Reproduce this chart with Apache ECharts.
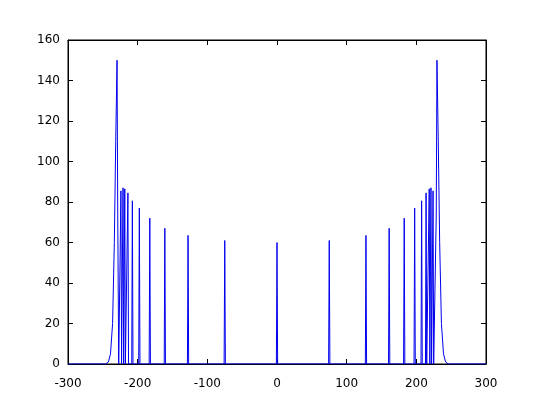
<!DOCTYPE html>
<html>
<head>
<script src="https://cdn.jsdelivr.net/npm/echarts@6/dist/echarts.min.js"></script>
<style>html,body{margin:0;background:#fff}#main{width:540px;height:405px}</style>
</head>
<body>
<div id="main"></div>
<script>
// narrow peaks on the left half (mirrored on the right), plus the centre one
var peakX = [-224, -221, -218.5, -214, -207.6, -197.6, -182.6, -161, -127.7, -75];
var peakY = [85.5, 87, 86.5, 84.5, 80.6, 77, 72, 67, 63.5, 61];
var centreY = 60;
// outer flank of the big edge peak (left side)
var edgeX = [-300, -246, -242, -239, -236, -233.5, -231.5, -229.6, -228.6, -227.2];
var edgeY = [0, 0, 1, 5, 20, 60, 110, 150, 74, 0];

var pts = [];
for (var i = 0; i < edgeX.length; i++) pts.push([edgeX[i], edgeY[i]]);
var left = [];
for (var i = 0; i < peakX.length; i++) {
    left.push([peakX[i] - 0.9, 0], [peakX[i], peakY[i]], [peakX[i] + 0.9, 0]);
}
pts = pts.concat(left);
pts.push([-0.9, 0], [0, centreY], [0.9, 0]);
var right = [];
for (var i = left.length - 1; i >= 0; i--) right.push([-left[i][0], left[i][1]]);
for (var i = edgeX.length - 1; i >= 0; i--) right.push([-edgeX[i], edgeY[i]]);
pts = pts.concat(right);

var chart = echarts.init(document.getElementById('main'));
function ax(extra, labels) {
    return Object.assign({
        type: 'value',
        axisLine: {onZero: false, lineStyle: {color: '#000'}},
        axisTick: {inside: true, length: 5, lineStyle: {color: '#000'}},
        axisLabel: {show: labels, color: '#000', fontSize: 12, fontFamily: 'DejaVu Sans'},
        splitLine: {show: false}
    }, extra);
}
chart.setOption({
    animation: false,
    grid: {left: 68, right: 54, top: 40, bottom: 41, show: true, borderColor: '#000', borderWidth: 1},
    xAxis: [ax({min: -300, max: 300, interval: 100, position: 'bottom'}, true),
            ax({min: -300, max: 300, interval: 100, position: 'top'}, false)],
    yAxis: [ax({min: 0, max: 160, interval: 20, position: 'left'}, true),
            ax({min: 0, max: 160, interval: 20, position: 'right'}, false)],
    series: [{
        type: 'line', data: pts, showSymbol: false,
        lineStyle: {color: '#0000ee', width: 1}
    }]
});
</script>
</body>
</html>
